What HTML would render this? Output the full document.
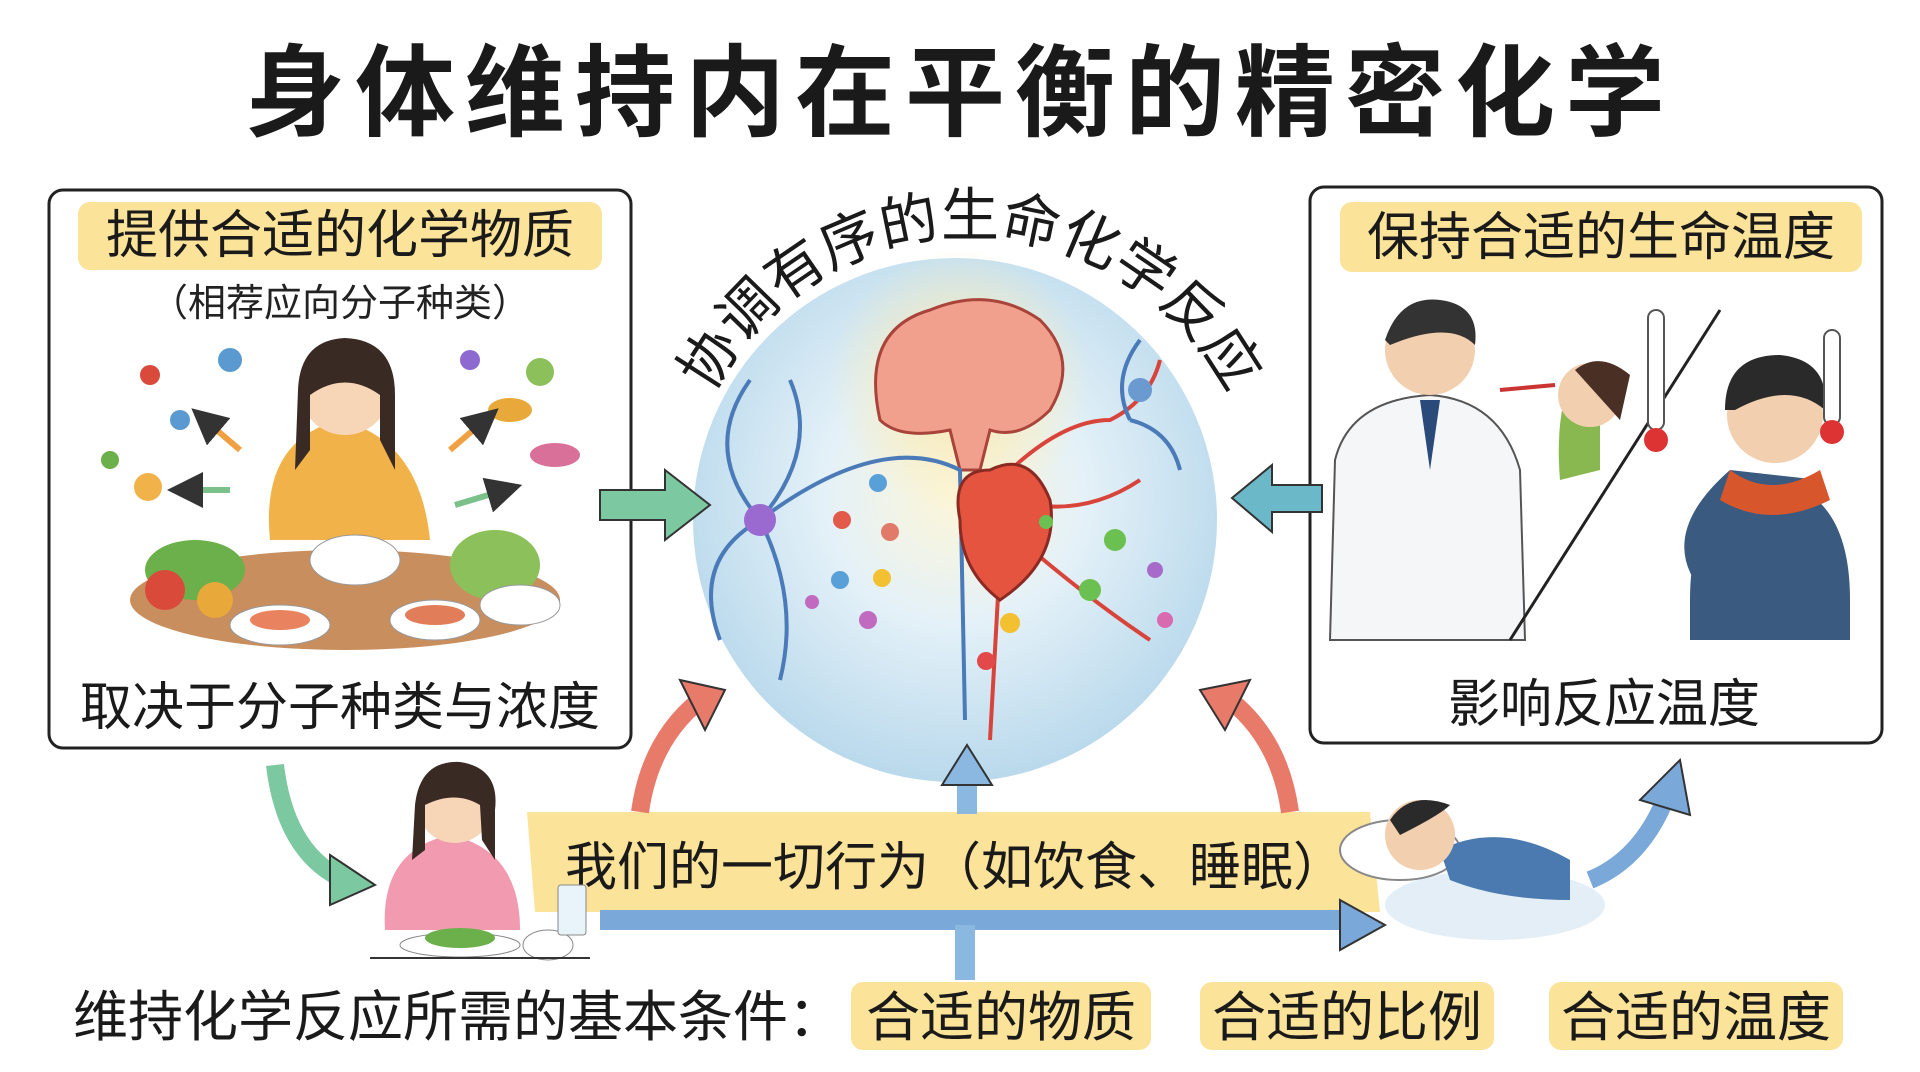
<!DOCTYPE html>
<html><head><meta charset="utf-8"><style>
html,body{margin:0;padding:0;background:#fff;}
svg{display:block;}
text{font-family:"Liberation Sans","Noto Sans CJK SC",sans-serif;}
</style></head><body>
<svg width="1920" height="1072" viewBox="0 0 1920 1072" xmlns="http://www.w3.org/2000/svg">
<defs>
<radialGradient id="cg" cx="50%" cy="45%" r="55%">
<stop offset="0" stop-color="#fdf6d8"/><stop offset="0.45" stop-color="#e4f1f8"/><stop offset="1" stop-color="#b9d9ec"/>
</radialGradient>
<radialGradient id="br" cx="50%" cy="50%" r="50%"><stop offset="0" stop-color="#fde9a8"/><stop offset="1" stop-color="#fde9a8" stop-opacity="0"/></radialGradient>
<path id="arc" d="M 690 450 A 290 290 0 0 1 1250 450"/>
<marker id="ah" markerWidth="6" markerHeight="6" refX="3" refY="3" orient="auto"><path d="M0,0 L6,3 L0,6 z" fill="#333"/></marker>
</defs>
<rect width="1920" height="1072" fill="#fff"/>
<text x="960" y="128" font-size="100" font-weight="bold" text-anchor="middle" letter-spacing="10" fill="#1a1a1a">身体维持内在平衡的精密化学</text>

<!-- left box -->
<rect x="49" y="190" width="582" height="558" rx="14" fill="#fff" stroke="#222" stroke-width="3"/>
<rect x="78" y="202" width="524" height="68" rx="12" fill="#fbe49a"/>
<text x="340" y="253" font-size="52" text-anchor="middle" fill="#1a1a1a">提供合适的化学物质</text>
<text x="340" y="316" font-size="38" text-anchor="middle" fill="#222">（相荐应向分子种类）</text>
<text x="340" y="725" font-size="52" text-anchor="middle" fill="#1a1a1a">取决于分子种类与浓度</text>
<!-- left illustration -->
<ellipse cx="345" cy="600" rx="215" ry="50" fill="#c98e5d"/>
<path d="M270 540 Q260 440 340 420 Q420 440 430 540 Z" fill="#f2b24a"/>
<circle cx="345" cy="390" r="45" fill="#f7d6b8"/>
<path d="M298 390 Q300 340 345 338 Q395 340 395 395 L395 470 L380 440 L380 395 Q345 370 310 395 L310 450 L295 470 Z" fill="#3a2a24"/>
<ellipse cx="355" cy="560" rx="45" ry="25" fill="#fff" stroke="#999"/>
<ellipse cx="195" cy="570" rx="50" ry="30" fill="#6bb04a"/>
<circle cx="165" cy="590" r="20" fill="#d94a3a"/>
<circle cx="215" cy="600" r="18" fill="#e8a83a"/>
<ellipse cx="495" cy="565" rx="45" ry="35" fill="#8cc05a"/>
<ellipse cx="520" cy="605" rx="40" ry="20" fill="#fff" stroke="#999"/>
<ellipse cx="435" cy="620" rx="45" ry="20" fill="#fff" stroke="#999"/>
<ellipse cx="435" cy="615" rx="30" ry="10" fill="#e27d5a"/>
<ellipse cx="280" cy="625" rx="50" ry="20" fill="#fff" stroke="#999"/>
<ellipse cx="280" cy="620" rx="30" ry="10" fill="#e8825f"/>
<circle cx="150" cy="375" r="10" fill="#d94a3a"/><circle cx="230" cy="360" r="12" fill="#5a9ad0"/><circle cx="180" cy="420" r="10" fill="#5a9ad0"/>
<circle cx="148" cy="487" r="14" fill="#f2b24a"/><circle cx="110" cy="460" r="9" fill="#6bb04a"/>
<circle cx="540" cy="372" r="14" fill="#8cc05a"/><circle cx="470" cy="360" r="10" fill="#8c6ad0"/>
<ellipse cx="510" cy="410" rx="22" ry="12" fill="#e8a83a"/><ellipse cx="555" cy="455" rx="25" ry="12" fill="#d9709a"/>
<path d="M240 450 L205 420" stroke="#f0a040" stroke-width="6" marker-end="url(#ah)"/>
<path d="M450 450 L485 420" stroke="#f0a040" stroke-width="6" marker-end="url(#ah)"/>
<path d="M230 490 L185 490" stroke="#7cc08a" stroke-width="6" marker-end="url(#ah)"/>
<path d="M455 505 L505 490" stroke="#7cc08a" stroke-width="6" marker-end="url(#ah)"/>

<!-- right box -->
<rect x="1310" y="187" width="572" height="556" rx="14" fill="#fff" stroke="#222" stroke-width="3"/>
<rect x="1340" y="202" width="522" height="70" rx="12" fill="#fbe49a"/>
<text x="1601" y="255" font-size="52" text-anchor="middle" fill="#1a1a1a">保持合适的生命温度</text>
<text x="1604" y="722" font-size="52" text-anchor="middle" fill="#1a1a1a">影响反应温度</text>
<!-- doctor -->
<path d="M1330 640 L1335 460 Q1350 400 1430 395 Q1500 400 1520 470 L1525 640 Z" fill="#f4f6f8" stroke="#555" stroke-width="2"/>
<circle cx="1430" cy="350" r="45" fill="#f2cfae"/>
<path d="M1385 340 Q1400 295 1440 300 Q1480 305 1475 345 Q1450 320 1390 345 Z" fill="#333"/>
<path d="M1420 400 L1430 470 L1440 400 Z" fill="#2a4a7a"/>
<path d="M1570 380 Q1555 420 1560 480 L1600 470 L1600 380 Z" fill="#8ab850"/>
<circle cx="1590" cy="395" r="32" fill="#f2cfae"/>
<path d="M1575 370 Q1600 350 1630 375 L1620 420 Z" fill="#4a3024"/>
<line x1="1500" y1="390" x2="1555" y2="385" stroke="#c33" stroke-width="4"/>
<!-- right person -->
<path d="M1690 600 Q1690 490 1770 480 Q1850 490 1850 600 L1850 640 L1690 640 Z" fill="#3a5a80"/>
<path d="M1710 600 Q1650 540 1730 470 L1820 480 L1810 600 Z" fill="#3a5a80"/>
<path d="M1730 470 Q1770 500 1820 470 L1830 500 Q1770 530 1720 500 Z" fill="#d7562c"/>
<circle cx="1775" cy="415" r="48" fill="#f2cfae"/>
<path d="M1725 410 Q1725 355 1780 355 Q1830 360 1825 410 Q1790 380 1735 410 Z" fill="#2a2a2a"/>
<line x1="1720" y1="310" x2="1510" y2="640" stroke="#222" stroke-width="3"/>
<rect x="1648" y="310" width="16" height="120" rx="8" fill="#fff" stroke="#555" stroke-width="2"/><circle cx="1656" cy="440" r="12" fill="#d33"/>
<rect x="1824" y="330" width="16" height="95" rx="8" fill="#fff" stroke="#555" stroke-width="2"/><circle cx="1832" cy="432" r="12" fill="#d33"/>

<!-- center circle -->
<circle cx="955" cy="520" r="262" fill="url(#cg)"/>
<circle cx="960" cy="380" r="130" fill="url(#br)"/>
<path d="M880 420 Q860 330 930 310 Q990 285 1040 320 Q1080 360 1050 410 Q1020 440 990 430 L980 470 L960 470 L950 430 Q900 440 880 420 Z" fill="#f2a08e" stroke="#a8443a" stroke-width="3"/>
<g fill="none" stroke-width="4">
<path d="M760 520 Q700 450 750 380 M760 520 Q820 450 790 380 M760 520 Q690 560 720 640 M760 520 Q800 600 780 680 M760 520 Q880 430 960 470 L965 720" stroke="#4a7ab8"/>
<path d="M1000 480 Q1060 420 1110 420 Q1150 400 1160 360 M1010 500 Q1080 520 1140 480 M1020 540 Q1090 600 1150 640 M1000 560 L990 740" stroke="#d9443a"/>
<path d="M1130 420 Q1110 380 1140 340 M1130 420 Q1170 430 1180 470" stroke="#4a7ab8"/>
</g>
<circle cx="760" cy="520" r="16" fill="#9a6ad0"/>
<circle cx="1140" cy="390" r="12" fill="#6a9ad0"/>
<path d="M960 520 Q950 470 990 470 Q1030 450 1050 500 Q1060 560 1000 600 Q960 570 960 520 Z" fill="#e5543e" stroke="#8a2a22" stroke-width="3"/>
<g>
<circle cx="842" cy="520" r="9" fill="#e25a4a"/><circle cx="890" cy="532" r="9" fill="#e27a6a"/><circle cx="840" cy="580" r="9" fill="#5aa0d8"/>
<circle cx="882" cy="578" r="9" fill="#f2c030"/><circle cx="812" cy="602" r="7" fill="#c06ac0"/><circle cx="868" cy="620" r="9" fill="#c06ac0"/>
<circle cx="878" cy="483" r="9" fill="#5aa0d8"/><circle cx="1115" cy="540" r="11" fill="#6ac050"/><circle cx="1046" cy="522" r="7" fill="#6ac050"/>
<circle cx="1090" cy="590" r="11" fill="#6ac050"/><circle cx="1155" cy="570" r="8" fill="#a86ac8"/><circle cx="1165" cy="620" r="8" fill="#d86ab0"/>
<circle cx="1010" cy="623" r="10" fill="#f2c030"/><circle cx="986" cy="661" r="9" fill="#e24a4a"/>
</g>
<text font-size="58" fill="#1a1a1a"><textPath href="#arc" startOffset="50%" text-anchor="middle">协调有序的生命化学反应</textPath></text>

<!-- side arrows -->
<path d="M600 490 L665 490 L665 470 L710 505 L665 540 L665 520 L600 520 Z" fill="#7cc8a0" stroke="#333" stroke-width="2"/>
<path d="M1322 485 L1272 485 L1272 465 L1232 498 L1272 532 L1272 512 L1322 512 Z" fill="#6ab8c8" stroke="#333" stroke-width="2"/>

<!-- bottom bar -->
<path d="M527 812 L1370 812 L1380 912 L535 912 Z" fill="#fbe49a"/>
<text x="955" y="885" font-size="52" text-anchor="middle" fill="#1a1a1a">我们的一切行为（如饮食、睡眠）</text>
<!-- red arrows -->
<path d="M640 812 Q650 740 700 700" fill="none" stroke="#e87a6a" stroke-width="18"/>
<path d="M680 680 L725 690 L705 730 Z" fill="#e87a6a" stroke="#333" stroke-width="2"/>
<path d="M1290 812 Q1280 740 1230 700" fill="none" stroke="#e87a6a" stroke-width="18"/>
<path d="M1250 680 L1200 690 L1225 730 Z" fill="#e87a6a" stroke="#333" stroke-width="2"/>
<!-- blue up arrow -->
<rect x="957" y="780" width="20" height="34" fill="#8ab8e0"/>
<path d="M942 785 L967 745 L992 785 Z" fill="#8ab8e0" stroke="#333" stroke-width="2"/>
<!-- green curved arrow -->
<path d="M275 765 Q285 850 340 878" fill="none" stroke="#7cc8a0" stroke-width="18"/>
<path d="M330 855 L375 885 L330 905 Z" fill="#7cc8a0" stroke="#333" stroke-width="2"/>
<!-- blue right arrow -->
<path d="M600 920 L1345 920" stroke="#7aa8d8" stroke-width="20"/>
<path d="M1340 900 L1385 925 L1340 950 Z" fill="#7aa8d8" stroke="#333" stroke-width="2"/>
<rect x="955" y="925" width="20" height="55" fill="#8ab8e0"/>
<!-- blue curved up-right -->
<path d="M1590 880 Q1640 860 1665 800" fill="none" stroke="#7aa8d8" stroke-width="18"/>
<path d="M1640 800 L1680 760 L1690 815 Z" fill="#7aa8d8" stroke="#333" stroke-width="2"/>

<!-- eating woman -->
<path d="M385 930 Q380 850 450 835 Q520 850 520 930 Z" fill="#f29ab0"/>
<circle cx="455" cy="805" r="38" fill="#f7d6b8"/>
<path d="M415 805 Q420 760 460 762 Q500 768 495 810 L495 860 L482 840 L480 805 Q455 790 425 805 L425 850 L412 860 Z" fill="#3a2a24"/>
<ellipse cx="460" cy="945" rx="60" ry="12" fill="#fff" stroke="#888"/>
<ellipse cx="460" cy="938" rx="35" ry="10" fill="#6bb04a"/>
<ellipse cx="548" cy="945" rx="25" ry="15" fill="#fff" stroke="#888"/>
<rect x="558" y="885" width="28" height="50" rx="3" fill="#e8f4fa" stroke="#888"/>
<line x1="370" y1="958" x2="590" y2="958" stroke="#333" stroke-width="2"/>
<!-- sleeping man -->
<ellipse cx="1495" cy="905" rx="110" ry="35" fill="#e4eef6"/>
<ellipse cx="1400" cy="850" rx="60" ry="30" fill="#fff" stroke="#888" stroke-width="2"/>
<path d="M1440 850 Q1500 820 1570 860 L1570 900 Q1500 900 1450 880 Z" fill="#4a7ab0"/>
<circle cx="1420" cy="835" r="35" fill="#f2cfae"/>
<path d="M1390 820 Q1410 790 1450 805 Q1440 815 1400 835 Z" fill="#2a2a2a"/>

<!-- bottom line -->
<text x="73" y="1036" font-size="55" fill="#1a1a1a">维持化学反应所需的基本条件：</text>
<rect x="851" y="982" width="300" height="68" rx="12" fill="#fbe49a"/>
<text x="1001" y="1036" font-size="54" text-anchor="middle" fill="#1a1a1a">合适的物质</text>
<rect x="1200" y="982" width="294" height="68" rx="12" fill="#fbe49a"/>
<text x="1347" y="1036" font-size="54" text-anchor="middle" fill="#1a1a1a">合适的比例</text>
<rect x="1549" y="982" width="294" height="68" rx="12" fill="#fbe49a"/>
<text x="1696" y="1036" font-size="54" text-anchor="middle" fill="#1a1a1a">合适的温度</text>
</svg>
</body></html>
